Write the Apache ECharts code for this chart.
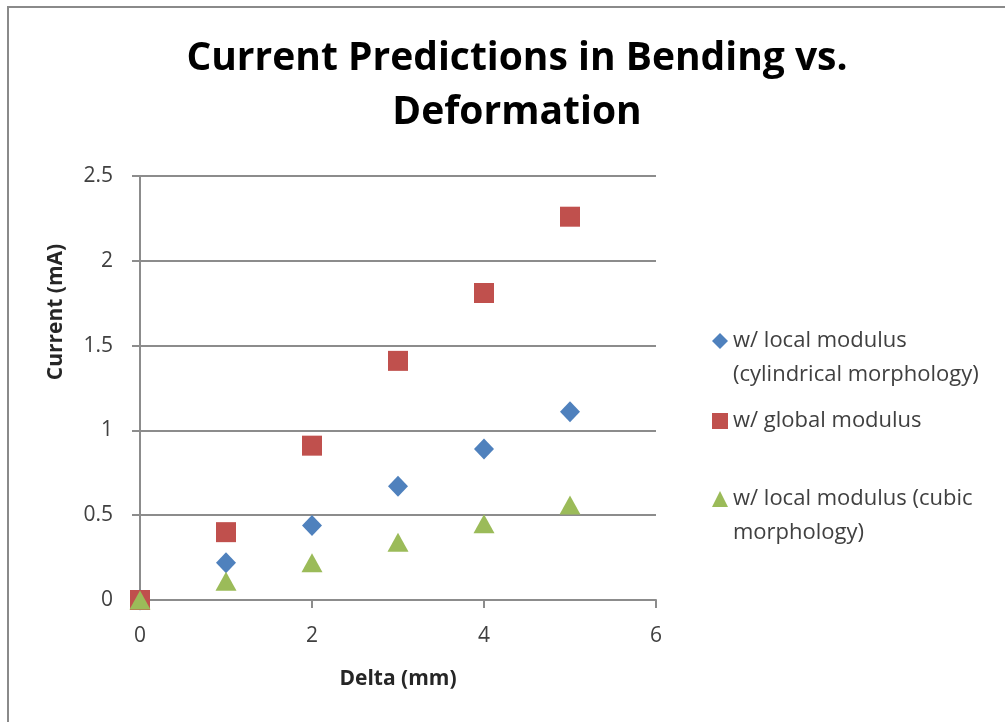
<!DOCTYPE html>
<html>
<head>
<meta charset="utf-8">
<script src="https://cdn.jsdelivr.net/npm/echarts@6/dist/echarts.min.js"></script>
<style>
  html, body { margin: 0; padding: 0; background: #fff; }
  #chart { width: 1005px; height: 722px; }
</style>
</head>
<body>
<div id="chart"></div>
<script>
// Deflection values (mm) and predicted currents (mA)
const deltaMm = [0, 1, 2, 3, 4, 5];
const localCylindrical = [0, 0.22, 0.44, 0.67, 0.89, 1.11];
const globalModulus = [0, 0.40, 0.91, 1.41, 1.81, 2.26];
const localCubic = [0, 0.11, 0.22, 0.34, 0.45, 0.56];

const seriesNames = [
  'w/ local modulus (cylindrical morphology)',
  'w/ global modulus',
  'w/ local modulus (cubic morphology)'
];
// Legend text, split into the lines shown beside each key
const legendLines = [
  ['w/ local modulus', '(cylindrical morphology)'],
  ['w/ global modulus'],
  ['w/ local modulus (cubic', 'morphology)']
];

const titleText = 'Current Predictions in Bending vs.\nDeformation';
const xAxisTitle = 'Delta (mm)';
const yAxisTitle = 'Current (mA)';

const colors = ['#4F81BD', '#C0504D', '#9BBB59'];
const symbols = ['diamond', 'rect', 'triangle'];
const symbolSizes = [[20, 21], [20, 20], [21, 19]];
const legendTops = [285, 399, 443];

function pairs(ys) { return deltaMm.map((x, i) => [x, ys[i]]); }
const seriesValues = [localCylindrical, globalModulus, localCubic];

const uiFont = 'Open Sans';
const lineH = 34;
const axisGrey = '#8c8c8c';

const chart = echarts.init(document.getElementById('chart'), null, { renderer: 'canvas' });

chart.setOption({
  backgroundColor: '#ffffff',
  animation: false,
  title: {
    text: titleText,
    left: 512,
    textAlign: 'center',
    top: 27,
    textStyle: {
      fontFamily: uiFont,
      fontWeight: 'bold',
      fontSize: 39,
      lineHeight: 54,
      color: '#000000'
    }
  },
  grid: { left: 140, right: 349, top: 176, bottom: 122, containLabel: false },
  xAxis: {
    type: 'value',
    min: 0, max: 6, interval: 2,
    name: xAxisTitle,
    nameLocation: 'middle',
    nameGap: 69,
    nameTextStyle: { fontFamily: uiFont, fontWeight: 'bold', fontSize: 21, color: '#262626' },
    axisLine: { show: true, onZero: false, lineStyle: { color: axisGrey, width: 2 } },
    axisTick: { show: true, inside: false, length: 8, lineStyle: { color: axisGrey, width: 2 } },
    axisLabel: { margin: 26, fontFamily: uiFont, fontSize: 21, color: '#404040' },
    splitLine: { show: false }
  },
  yAxis: {
    type: 'value',
    min: 0, max: 2.5, interval: 0.5,
    name: yAxisTitle,
    nameLocation: 'middle',
    nameGap: 73,
    nameRotate: 90,
    // the title sits above the plot's midpoint, so pad its lower side
    nameTextStyle: { fontFamily: uiFont, fontWeight: 'bold', fontSize: 21, color: '#262626', padding: [0, 0, 0, 152] },
    axisLine: { show: true, lineStyle: { color: axisGrey, width: 2 } },
    axisTick: { show: true, inside: false, length: 8, lineStyle: { color: axisGrey, width: 2 } },
    axisLabel: { margin: 27, fontFamily: uiFont, fontSize: 21, color: '#404040' },
    splitLine: { show: true, lineStyle: { color: axisGrey, width: 2 } }
  },
  legend: seriesNames.map((name, i) => ({
    show: true,
    orient: 'vertical',
    left: 707,
    top: legendTops[i],
    itemWidth: 16,
    itemHeight: 16,
    data: [{ name: name, icon: symbols[i] }],
    formatter: () => (legendLines[i].length > 1 ? ' \n' + legendLines[i].join('\n') : legendLines[i][0]),
    textStyle: { fontFamily: uiFont, fontSize: 22, lineHeight: lineH, color: '#404040' },
    selectedMode: false
  })),
  // later series are drawn on top of earlier ones
  series: seriesNames.map((name, i) => ({
    name: name,
    type: 'scatter',
    data: pairs(seriesValues[i]),
    symbol: symbols[i],
    symbolSize: symbolSizes[i],
    itemStyle: { color: colors[i], opacity: 1 },
    z: 2 + i
  })),
  graphic: [{
    type: 'polyline',
    shape: { points: [[8, 722], [8, 7], [1005, 7]] },
    style: { stroke: '#8a8a8a', lineWidth: 2, fill: null },
    silent: true
  }]
});
</script>
</body>
</html>
